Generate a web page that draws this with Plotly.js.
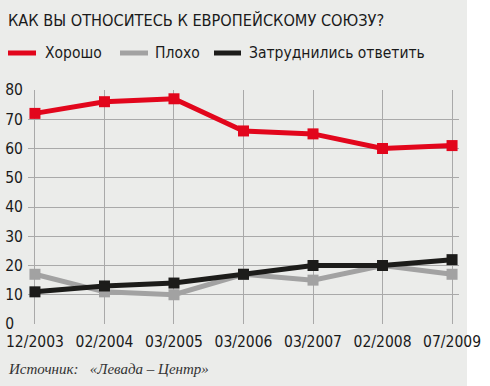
<!DOCTYPE html>
<html>
<head>
<meta charset="utf-8">
<script src="https://cdn.plot.ly/plotly-3.0.1.min.js"></script>
<style>
  html, body { margin: 0; padding: 0; background: #ffffff; }
  #chart { width: 490px; height: 386px; background: linear-gradient(to right, #ebecea 0px, #ebecea 467px, #ffffff 467px, #ffffff 490px); }
</style>
</head>
<body>
<div id="chart"></div>
<script>
const titleText = "КАК ВЫ ОТНОСИТЕСЬ К ЕВРОПЕЙСКОМУ СОЮЗУ?";
const sourceText = "<i>Источник:   «Левада – Центр»</i>";
const categories = ["12/2003", "02/2004", "03/2005", "03/2006", "03/2007", "02/2008", "07/2009"];
const seriesNames = ["Хорошо", "Плохо", "Затруднились ответить"];
const good = [72, 76, 77, 66, 65, 60, 61];
const bad = [17, 11, 10, 17, 15, 20, 17];
const undecided = [11, 13, 14, 17, 20, 20, 22];
const yTickVals = [0, 10, 20, 30, 40, 50, 60, 70, 80];
const yTickText = ["0\u2007", "10", "20", "30", "40", "50", "60", "70", "80"];

const colors = ["#e2061c", "#a2a2a2", "#1c1c1a"];
const narrow = "'DejaVu Sans Condensed', 'Liberation Sans Narrow', sans-serif";

const xIdx = categories.map((c, i) => i);
function trace(vals, color, name) {
  return {
    x: xIdx, y: vals, name: name, type: "scatter", mode: "lines+markers",
    line: { color: color, width: 5 },
    marker: { symbol: "square", size: 11, color: color },
    cliponaxis: false, showlegend: false, hoverinfo: "skip"
  };
}
const data = [
  trace(bad, colors[1], seriesNames[1]),
  trace(undecided, colors[2], seriesNames[2]),
  trace(good, colors[0], seriesNames[0])
];

// pixel -> paper helpers (plot area 28..459 x, 90..324 y)
const L = 28, R = 459, T = 90, B = 324;
const px = v => (v - L) / (R - L);
const py = v => (B - v) / (B - T);

const legendLines = [[8, 36], [120, 148], [214, 241]];
const legendText = [43, 153, 247];
const legY = 53;

const shapes = legendLines.map((seg, i) => ({
  type: "line", xref: "paper", yref: "paper",
  x0: px(seg[0]), x1: px(seg[1]), y0: py(legY), y1: py(legY),
  line: { color: colors[i], width: 5 }
}));
const annotations = seriesNames.map((n, i) => ({
  text: n, xref: "paper", yref: "paper", x: px(legendText[i]), y: py(legY),
  xanchor: "left", yanchor: "middle", showarrow: false,
  font: { family: narrow, size: 15.5, color: "#1a1a1a" }
}));
annotations.push({
  text: sourceText, xref: "paper", yref: "paper", x: px(6), y: py(369),
  xanchor: "left", yanchor: "middle", showarrow: false,
  font: { family: "'Liberation Serif', 'DejaVu Serif', serif", size: 15, color: "#333333" }
});

const layout = {
  width: 490, height: 386,
  margin: { l: L, r: 490 - R, t: T, b: 386 - B, pad: 0 },
  paper_bgcolor: "rgba(0,0,0,0)", plot_bgcolor: "rgba(0,0,0,0)",
  title: {
    text: titleText, x: 8 / 490, xanchor: "left", y: 1 - 20 / 386, yanchor: "middle",
    font: { family: narrow, size: 16.2, color: "#1a1a1a" }
  },
  xaxis: {
    range: [-0.1, 6.1], tickmode: "array", tickvals: xIdx, ticktext: categories,
    showgrid: true, gridcolor: "#a9a9a9", gridwidth: 1, zeroline: false, showline: false,
    ticks: "", tickangle: 0, tickfont: { family: narrow, size: 15.5, color: "#1a1a1a" },
    ticklabelstandoff: 6, fixedrange: true
  },
  yaxis: {
    range: [0, 80], tickmode: "array", tickvals: yTickVals, ticktext: yTickText,
    showgrid: true, gridcolor: "#a9a9a9", gridwidth: 1, zeroline: false, showline: false,
    ticks: "", tickfont: { family: narrow, size: 15.5, color: "#1a1a1a" },
    ticklabelstandoff: 4, fixedrange: true
  },
  shapes: shapes, annotations: annotations, showlegend: false
};

Plotly.newPlot("chart", data, layout, { displayModeBar: false, staticPlot: true });
</script>
</body>
</html>
